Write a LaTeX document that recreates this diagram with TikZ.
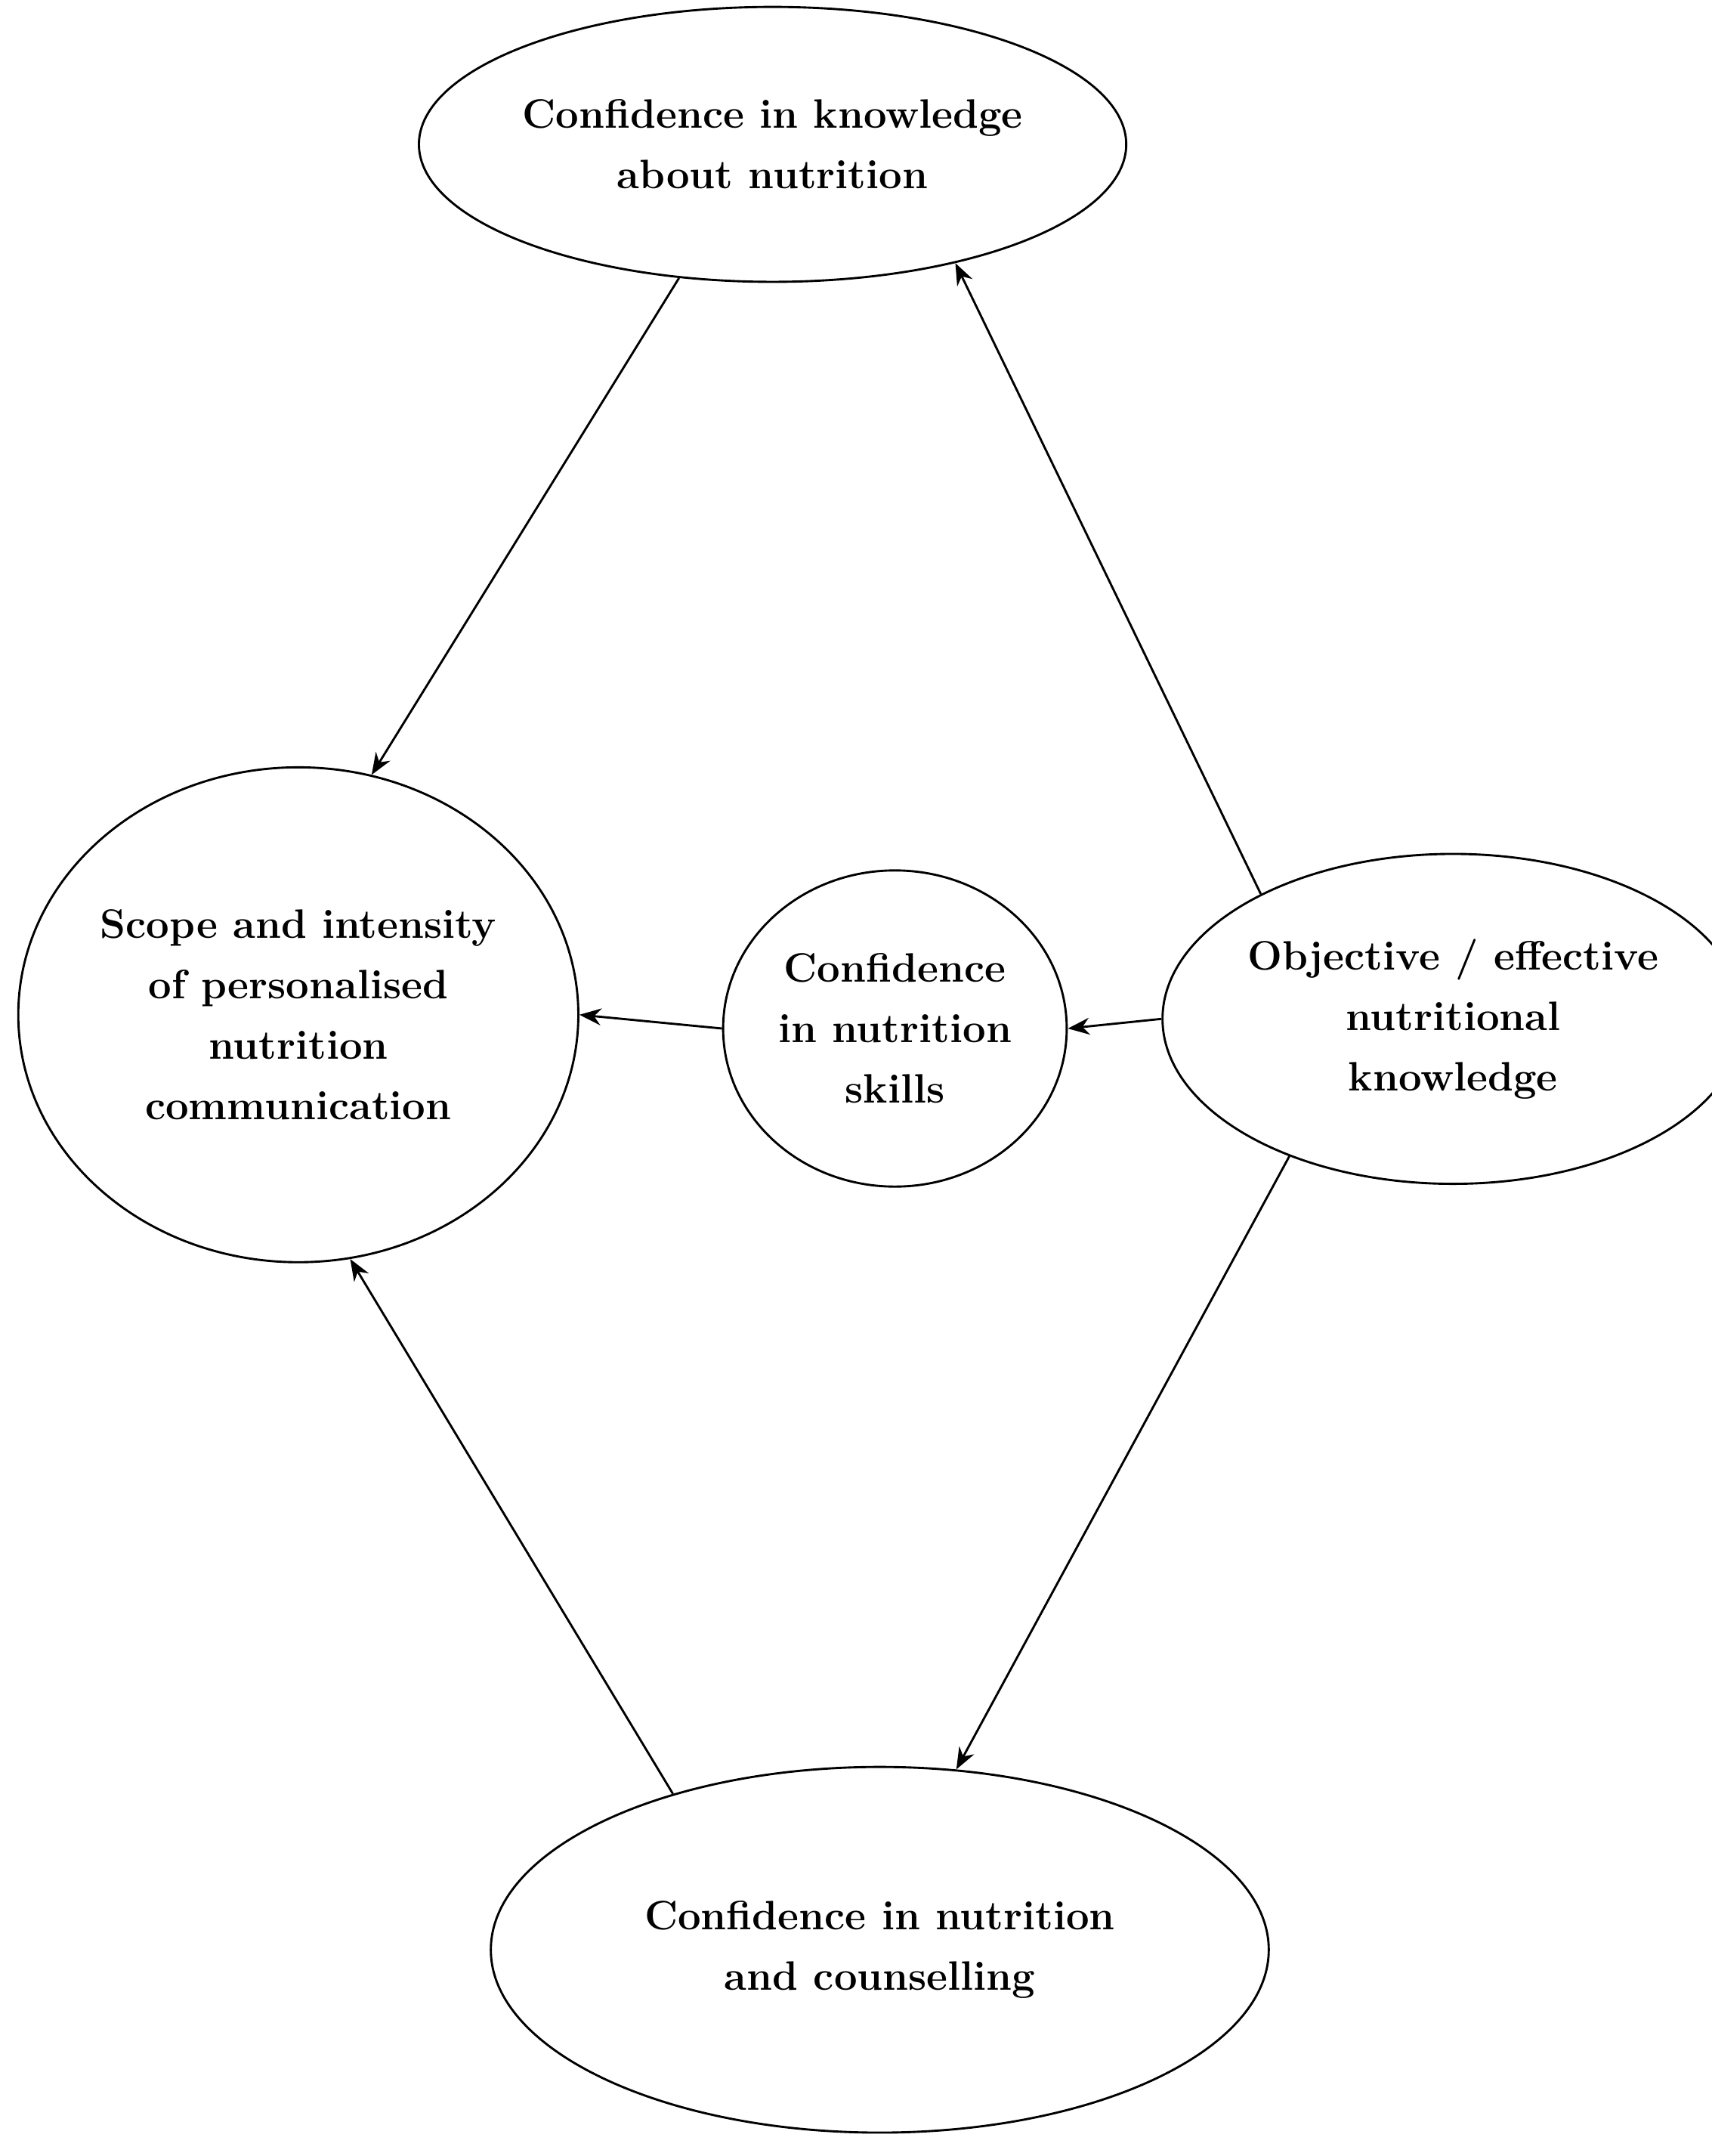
\documentclass[tikz,border=0pt]{standalone}
\usetikzlibrary{shapes.geometric,arrows.meta}
\begin{document}
\begin{tikzpicture}[x=0.02cm,y=-0.02cm,
  el/.style={draw,ellipse,line width=0.9pt,inner sep=0pt,align=center,
    font=\fontsize{17}{25}\selectfont\bfseries},
  ar/.style={line width=0.9pt,-{Stealth[length=9pt,width=7pt]}}]
\useasboundingbox (0,0) rectangle (1245,1568);
\node[el,minimum width=476\pgflinewidth*0+9.52cm,minimum height=4cm] (top) at (562,105) {Confidence in knowledge\\about nutrition};
\node[el,minimum width=7.52cm,minimum height=7.2cm] (left) at (217,738) {Scope and intensity\\of personalised\\nutrition\\communication};
\node[el,minimum width=5cm,minimum height=4.6cm] (mid) at (651,748) {Confidence\\in nutrition\\skills};
\node[el,minimum width=6.7cm,minimum height=4.8cm] (right) at (1057,741) {Objective / effective\\nutritional\\knowledge};
\node[el,minimum width=11.32cm,minimum height=5.32cm] (bot) at (640,1418) {Confidence in nutrition\\and counselling};
\draw[ar] (top.-125) -- (left.73);
\draw[ar] (right.147) -- (top.-33);
\draw[ar] (mid.west) -- (left.east);
\draw[ar] (right.west) -- (mid.east);
\draw[ar] (right.-140) -- (bot.67.5);
\draw[ar] (bot.143) -- (left.-78);
\end{tikzpicture}
\end{document}
